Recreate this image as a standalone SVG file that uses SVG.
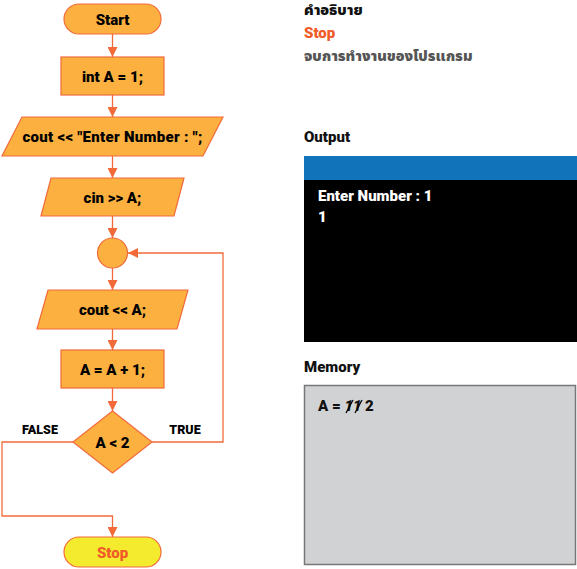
<svg xmlns="http://www.w3.org/2000/svg" width="577" height="569" viewBox="0 0 577 569">
<style>
.n{fill:#fbb040;stroke:#f26a3a;stroke-width:1.2}
.t{font-family:Roboto,"Liberation Sans",sans-serif;font-weight:900;font-size:15px;fill:#000;text-anchor:middle}
.c{fill:none;stroke:#f26a3a;stroke-width:1.3}
.h{font-family:Roboto,"Liberation Sans",sans-serif;font-weight:900;font-size:15px;fill:#111}
.th{font-family:"Noto Sans Thai","Noto Sans",sans-serif;font-weight:900;font-size:14.5px}
.lb{font-family:Roboto,"Liberation Sans",sans-serif;font-weight:900;font-size:12.5px;fill:#000;text-anchor:middle}
</style>
<defs>
<marker id="ar" viewBox="0 0 10 10" refX="10" refY="5" markerWidth="10" markerHeight="10" markerUnits="userSpaceOnUse" orient="auto">
<path d="M0,0 L10,5 L0,10 z" fill="#f26a3a"/>
</marker>
</defs>
<rect width="577" height="569" fill="#fff"/>
<g id="connectors">
<line class="c" x1="112.5" y1="34" x2="112.5" y2="57" marker-end="url(#ar)"/>
<line class="c" x1="112.5" y1="95" x2="112.5" y2="117" marker-end="url(#ar)"/>
<line class="c" x1="112.5" y1="156" x2="112.5" y2="178" marker-end="url(#ar)"/>
<line class="c" x1="112.5" y1="216" x2="112.5" y2="238" marker-end="url(#ar)"/>
<line class="c" x1="112.5" y1="268" x2="112.5" y2="290" marker-end="url(#ar)"/>
<line class="c" x1="112.5" y1="329" x2="112.5" y2="350" marker-end="url(#ar)"/>
<line class="c" x1="112.5" y1="388" x2="112.5" y2="411" marker-end="url(#ar)"/>
<polyline class="c" points="73,442 2,442 2,516 112.5,516 112.5,537" marker-end="url(#ar)"/>
<polyline class="c" points="152,442 223,442 223,253 128,253" marker-end="url(#ar)"/>
<text class="lb" x="40" y="434">FALSE</text>
<text class="lb" x="185" y="434">TRUE</text>
</g>
<g id="start"><rect class="n" x="64" y="4" width="97" height="30" rx="15"/><text class="t" x="112.5" y="24.5">Start</text></g>
<g id="init"><rect class="n" x="61" y="57" width="103" height="38"/><text class="t" x="112.5" y="81.5">int A = 1;</text></g>
<g id="prompt"><polygon class="n" points="22,117 223,117 203,156 2,156"/><text class="t" x="112.5" y="141.5" letter-spacing="0.3">cout &lt;&lt; "Enter Number : ";</text></g>
<g id="input"><polygon class="n" points="51,178 184,178 174,216 41,216"/><text class="t" x="112.5" y="202.5">cin &gt;&gt; A;</text></g>
<g id="join"><circle class="n" cx="112.5" cy="253" r="15"/></g>
<g id="print"><polygon class="n" points="48,290 188,290 177,329 37,329"/><text class="t" x="112.5" y="314.5">cout &lt;&lt; A;</text></g>
<g id="incr"><rect class="n" x="61" y="350" width="103" height="38"/><text class="t" x="112.5" y="374.5">A = A + 1;</text></g>
<g id="cond"><polygon class="n" points="112.5,411 152,442 112.5,473 73,442"/><text class="t" x="112.5" y="447.5">A &lt; 2</text></g>
<g id="stop"><rect x="64" y="537" width="97" height="30" rx="15" fill="#f5eb2e" stroke="#f26a3a" stroke-width="1.2"/><text class="t" x="112.5" y="557.5" style="fill:#f15a29">Stop</text></g>
<g id="desc">
<text class="th" x="304" y="15" fill="#111">คำอธิบาย</text>
<text class="h" x="304" y="38" style="fill:#f15a29">Stop</text>
<text class="th" x="304" y="61" fill="#555">จบการทำงานของโปรแกรม</text>
</g>
<g id="output">
<text class="h" x="304" y="142">Output</text>
<rect x="304" y="156" width="273" height="24" fill="#1174bb"/>
<rect x="304" y="180" width="273" height="162" fill="#000"/>
<text class="h" x="318" y="201" style="fill:#fff">Enter Number : 1</text>
<text class="h" x="318" y="222" style="fill:#fff">1</text>
</g>
<g id="memory">
<text class="h" x="304" y="372">Memory</text>
<rect x="304.5" y="385.5" width="271" height="179" fill="#d1d2d4" stroke="#777" stroke-width="1.5"/>
<text class="h" x="318" y="411">A = <tspan font-style="italic">1</tspan><tspan font-style="italic">1</tspan> 2</text>
<line x1="346" y1="413" x2="353" y2="400" stroke="#000" stroke-width="1.3"/>
<line x1="355" y1="413" x2="362" y2="400" stroke="#000" stroke-width="1.3"/>
</g>
</svg>
